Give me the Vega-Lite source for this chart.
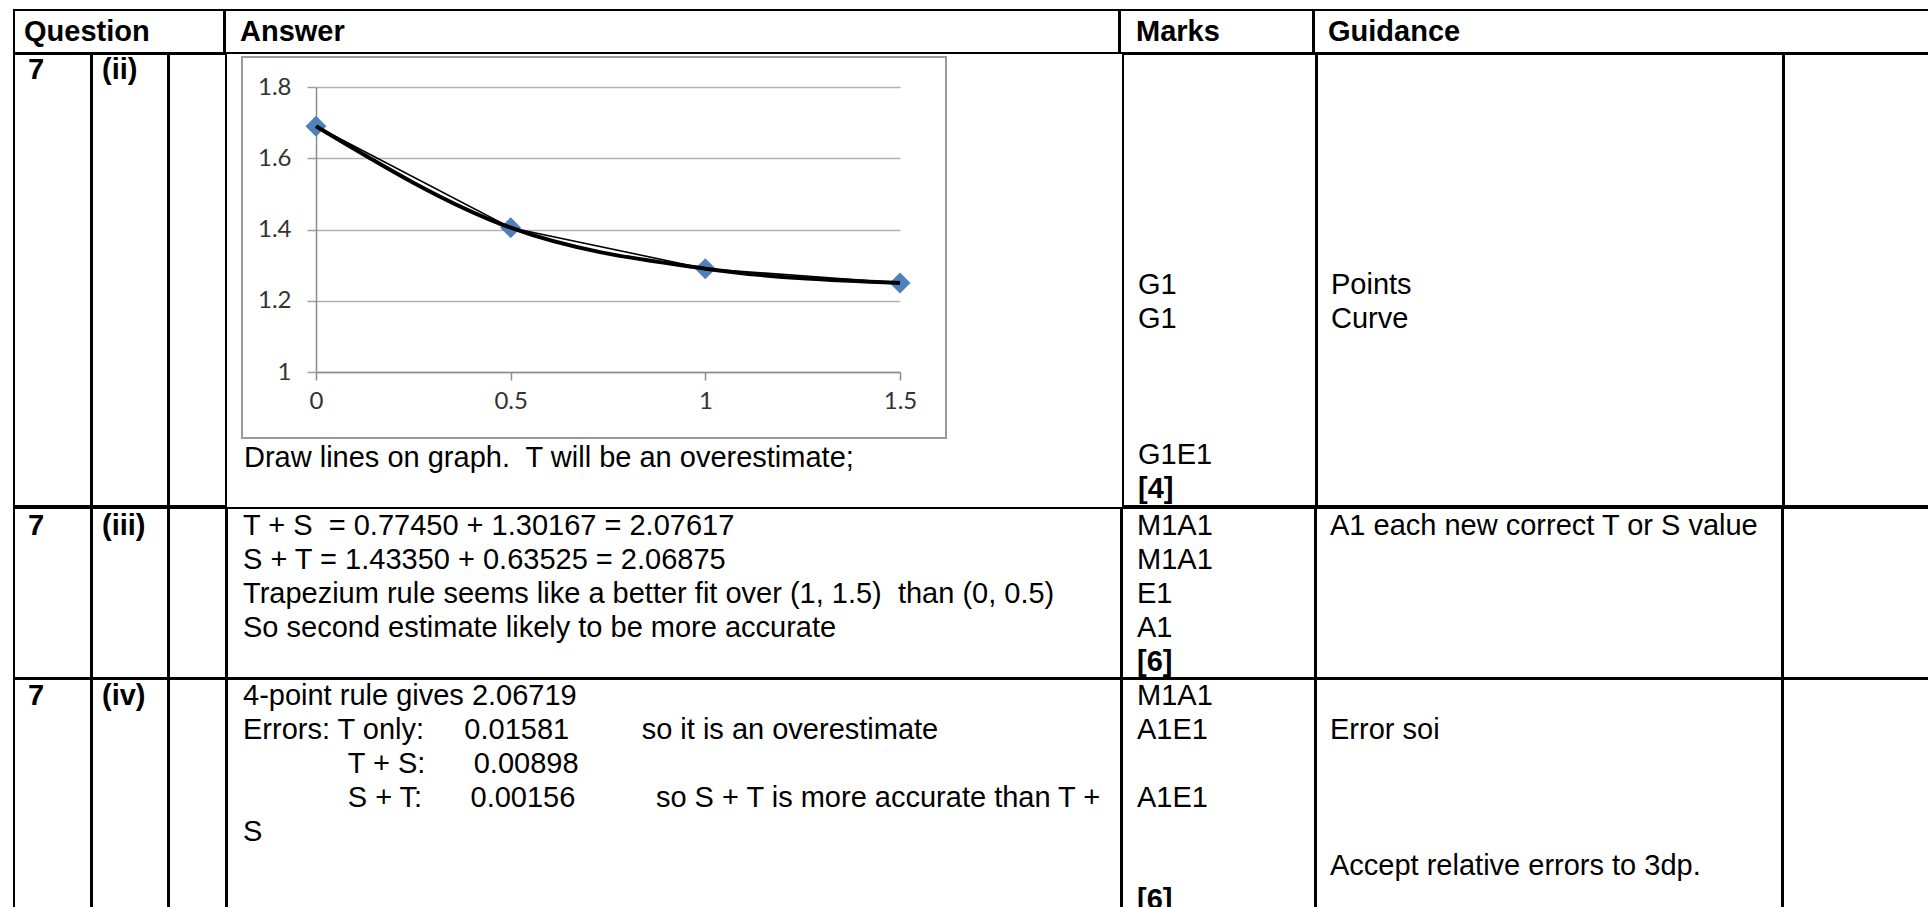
{
  "$schema": "https://vega.github.io/schema/vega-lite/v6.json",
  "background": "white",
  "padding": {"left": 13, "top": 9, "right": 0, "bottom": 0},
  "spacing": -2,
  "config": {
    "view": {"stroke": "black", "strokeWidth": 2},
    "text": {"font": "Liberation Sans", "fontSize": 29, "align": "left", "baseline": "middle", "color": "black"},
    "concat": {"spacing": -2}
  },
  "vconcat": [
    {
      "hconcat": [
        {"width": 210, "height": 43, "data": {"values": [{"line": 0, "text": "Question"}]},
         "mark": {"type": "text", "dx": 10, "fontWeight": "bold", "fontSize": 29},
         "encoding": {"x": {"datum": 0, "scale": {"domain": [0, 1]}, "axis": null},
                      "y": {"field": "line", "type": "quantitative", "scale": {"domain": [-0.632, 0.632], "reverse": true, "nice": false, "zero": false}, "axis": null},
                      "text": {"field": "text"}}},
        {"width": 894, "height": 43, "data": {"values": [{"line": 0, "text": "Answer"}]},
         "mark": {"type": "text", "dx": 15, "fontWeight": "bold", "fontSize": 29},
         "encoding": {"x": {"datum": 0, "scale": {"domain": [0, 1]}, "axis": null},
                      "y": {"field": "line", "type": "quantitative", "scale": {"domain": [-0.632, 0.632], "reverse": true, "nice": false, "zero": false}, "axis": null},
                      "text": {"field": "text"}}},
        {"width": 193, "height": 43, "data": {"values": [{"line": 0, "text": "Marks"}]},
         "mark": {"type": "text", "dx": 16, "fontWeight": "bold", "fontSize": 29},
         "encoding": {"x": {"datum": 0, "scale": {"domain": [0, 1]}, "axis": null},
                      "y": {"field": "line", "type": "quantitative", "scale": {"domain": [-0.632, 0.632], "reverse": true, "nice": false, "zero": false}, "axis": null},
                      "text": {"field": "text"}}},
        {"width": 620, "height": 43, "data": {"values": [{"line": 0, "text": "Guidance"}]},
         "mark": {"type": "text", "dx": 14, "fontWeight": "bold", "fontSize": 29},
         "encoding": {"x": {"datum": 0, "scale": {"domain": [0, 1]}, "axis": null},
                      "y": {"field": "line", "type": "quantitative", "scale": {"domain": [-0.632, 0.632], "reverse": true, "nice": false, "zero": false}, "axis": null},
                      "text": {"field": "text"}}}
      ],
      "spacing": -2
    },
    {
      "hconcat": [
        {"width": 77, "height": 452, "data": {"values": [{"line": 0, "text": "7"}]},
         "mark": {"type": "text", "dx": 14, "fontWeight": "bold"},
         "encoding": {"x": {"datum": 0, "scale": {"domain": [0, 1]}, "axis": null},
                      "y": {"field": "line", "type": "quantitative", "scale": {"domain": [-0.47, 12.824], "reverse": true, "nice": false, "zero": false}, "axis": null},
                      "text": {"field": "text"}}},
        {"width": 76, "height": 452, "data": {"values": [{"line": 0, "text": "(ii)"}]},
         "mark": {"type": "text", "dx": 10, "fontWeight": "bold"},
         "encoding": {"x": {"datum": 0, "scale": {"domain": [0, 1]}, "axis": null},
                      "y": {"field": "line", "type": "quantitative", "scale": {"domain": [-0.47, 12.824], "reverse": true, "nice": false, "zero": false}, "axis": null},
                      "text": {"field": "text"}}},
        {"width": 57, "height": 452, "data": {"values": [{"line": 0, "text": ""}]},
         "mark": {"type": "text"},
         "encoding": {"x": {"datum": 0, "scale": {"domain": [0, 1]}, "axis": null},
                      "y": {"field": "line", "type": "quantitative", "scale": {"domain": [-0.47, 12.824], "reverse": true, "nice": false, "zero": false}, "axis": null},
                      "text": {"field": "text"}}},
        {
          "vconcat": [
            {"width": 896, "height": 2, "data": {"values": []}, "mark": "text", "view": {"stroke": null, "fill": null}},
            {
              "hconcat": [
                {"width": 15, "height": 381, "data": {"values": []}, "mark": "text", "view": {"stroke": null, "fill": null}},
                {
                  "width": 704, "height": 381,
                  "view": {"stroke": "#9a9a9a", "strokeWidth": 2},
                  "data": {"values": [
                    {"x": 0, "y": 1.69},
                    {"x": 0.5, "y": 1.405},
                    {"x": 1, "y": 1.29},
                    {"x": 1.5, "y": 1.25}
                  ]},
                  "encoding": {
                    "x": {"field": "x", "type": "quantitative",
                          "scale": {"domain": [0, 1.5], "range": [74, 658], "nice": false, "zero": false},
                          "axis": {"orient": "bottom", "offset": -66, "values": [0, 0.5, 1, 1.5], "format": "~g", "title": null, "grid": false,
                                   "domainColor": "#8c8c8c", "domainWidth": 1.5, "tickColor": "#8c8c8c", "tickSize": 8, "tickWidth": 1.5,
                                   "labelFont": "Lato", "labelFontSize": 24, "labelColor": "#333333", "labelPadding": 9, "labelFlush": false, "labelBound": false, "labelOverlap": false}},
                    "y": {"field": "y", "type": "quantitative",
                          "scale": {"domain": [1, 1.8], "range": [315, 30], "nice": false, "zero": false},
                          "axis": {"orient": "left", "offset": -74, "values": [1, 1.2, 1.4, 1.6, 1.8], "format": "~g", "title": null,
                                   "grid": true, "gridColor": "#b2b2b2", "gridWidth": 1.5,
                                   "domainColor": "#8c8c8c", "domainWidth": 1.5, "tickColor": "#a0a0a0", "tickSize": 9, "tickWidth": 1.5,
                                   "labelFont": "Lato", "labelFontSize": 24, "labelColor": "#333333", "labelPadding": 16, "labelBound": false, "labelOverlap": false}}
                  },
                  "layer": [
                    {"mark": {"type": "point", "shape": "diamond", "filled": true, "size": 440, "color": "#4f81bd", "opacity": 1}},
                    {"mark": {"type": "line", "color": "black", "strokeWidth": 1.6}},
                    {"mark": {"type": "line", "color": "black", "strokeWidth": 4, "interpolate": "monotone"}}
                  ]
                },
                {"width": 175, "height": 381, "data": {"values": []}, "mark": "text", "view": {"stroke": null, "fill": null}}
              ],
              "spacing": 0,
              "bounds": "flush"
            },
            {"width": 896, "height": 69, "view": {"stroke": null, "fill": null},
             "data": {"values": [{"line": 0, "text": "Draw lines on graph.\u00a0 T will be an overestimate;"}]},
             "mark": {"type": "text", "dx": 17},
             "encoding": {"x": {"datum": 0, "scale": {"domain": [0, 1]}, "axis": null},
                          "y": {"field": "line", "type": "quantitative", "scale": {"domain": [-0.559, 1.471], "reverse": true, "nice": false, "zero": false}, "axis": null},
                          "text": {"field": "text"}}}
          ],
          "spacing": 0
        },
        {"width": 193, "height": 452,
         "data": {"values": [
           {"line": 0, "text": "G1"},
           {"line": 1, "text": "G1"},
           {"line": 5, "text": "G1E1"},
           {"line": 6, "text": "[4]", "kind": "total"}
         ]},
         "encoding": {"x": {"datum": 0, "scale": {"domain": [0, 1]}, "axis": null},
                      "y": {"field": "line", "type": "quantitative", "scale": {"domain": [-6.794, 6.5], "reverse": true, "nice": false, "zero": false}, "axis": null},
                      "text": {"field": "text"}},
         "layer": [
           {"transform": [{"filter": "datum.kind !== 'total'"}], "mark": {"type": "text", "dx": 15}},
           {"transform": [{"filter": "datum.kind === 'total'"}], "mark": {"type": "text", "dx": 15, "fontWeight": "bold"}}
         ]},
        {"width": 466, "height": 452,
         "data": {"values": [
           {"line": 0, "text": "Points"},
           {"line": 1, "text": "Curve"}
         ]},
         "mark": {"type": "text", "dx": 14},
         "encoding": {"x": {"datum": 0, "scale": {"domain": [0, 1]}, "axis": null},
                      "y": {"field": "line", "type": "quantitative", "scale": {"domain": [-6.794, 6.5], "reverse": true, "nice": false, "zero": false}, "axis": null},
                      "text": {"field": "text"}}},
        {"width": 154, "height": 452, "data": {"values": [{"line": 0, "text": ""}]},
         "mark": {"type": "text"},
         "encoding": {"x": {"datum": 0, "scale": {"domain": [0, 1]}, "axis": null},
                      "y": {"field": "line", "type": "quantitative", "scale": {"domain": [-0.47, 12.824], "reverse": true, "nice": false, "zero": false}, "axis": null},
                      "text": {"field": "text"}}}
      ],
      "spacing": -2
    },
    {
      "hconcat": [
        {"width": 77, "height": 170, "data": {"values": [{"line": 0, "text": "7"}]},
         "mark": {"type": "text", "dx": 14, "fontWeight": "bold"},
         "encoding": {"x": {"datum": 0, "scale": {"domain": [0, 1]}, "axis": null},
                      "y": {"field": "line", "type": "quantitative", "scale": {"domain": [-0.529, 4.471], "reverse": true, "nice": false, "zero": false}, "axis": null},
                      "text": {"field": "text"}}},
        {"width": 76, "height": 170, "data": {"values": [{"line": 0, "text": "(iii)"}]},
         "mark": {"type": "text", "dx": 10, "fontWeight": "bold"},
         "encoding": {"x": {"datum": 0, "scale": {"domain": [0, 1]}, "axis": null},
                      "y": {"field": "line", "type": "quantitative", "scale": {"domain": [-0.529, 4.471], "reverse": true, "nice": false, "zero": false}, "axis": null},
                      "text": {"field": "text"}}},
        {"width": 57, "height": 170, "data": {"values": [{"line": 0, "text": ""}]},
         "mark": {"type": "text"},
         "encoding": {"x": {"datum": 0, "scale": {"domain": [0, 1]}, "axis": null},
                      "y": {"field": "line", "type": "quantitative", "scale": {"domain": [-0.529, 4.471], "reverse": true, "nice": false, "zero": false}, "axis": null},
                      "text": {"field": "text"}}},
        {"width": 894, "height": 170,
         "data": {"values": [
           {"line": 0, "text": "T + S\u00a0\u00a0= 0.77450 + 1.30167 = 2.07617"},
           {"line": 1, "text": "S + T = 1.43350 + 0.63525 = 2.06875"},
           {"line": 2, "text": "Trapezium rule seems like a better fit over (1, 1.5)\u00a0\u00a0than (0, 0.5)"},
           {"line": 3, "text": "So second estimate likely to be more accurate"}
         ]},
         "mark": {"type": "text", "dx": 16},
         "encoding": {"x": {"datum": 0, "scale": {"domain": [0, 1]}, "axis": null},
                      "y": {"field": "line", "type": "quantitative", "scale": {"domain": [-0.529, 4.471], "reverse": true, "nice": false, "zero": false}, "axis": null},
                      "text": {"field": "text"}}},
        {"width": 193, "height": 170,
         "data": {"values": [
           {"line": 0, "text": "M1A1"},
           {"line": 1, "text": "M1A1"},
           {"line": 2, "text": "E1"},
           {"line": 3, "text": "A1"},
           {"line": 4, "text": "[6]", "kind": "total"}
         ]},
         "encoding": {"x": {"datum": 0, "scale": {"domain": [0, 1]}, "axis": null},
                      "y": {"field": "line", "type": "quantitative", "scale": {"domain": [-0.529, 4.471], "reverse": true, "nice": false, "zero": false}, "axis": null},
                      "text": {"field": "text"}},
         "layer": [
           {"transform": [{"filter": "datum.kind !== 'total'"}], "mark": {"type": "text", "dx": 15}},
           {"transform": [{"filter": "datum.kind === 'total'"}], "mark": {"type": "text", "dx": 15, "fontWeight": "bold"}}
         ]},
        {"width": 466, "height": 170,
         "data": {"values": [{"line": 0, "text": "A1 each new correct T or S value"}]},
         "mark": {"type": "text", "dx": 14},
         "encoding": {"x": {"datum": 0, "scale": {"domain": [0, 1]}, "axis": null},
                      "y": {"field": "line", "type": "quantitative", "scale": {"domain": [-0.529, 4.471], "reverse": true, "nice": false, "zero": false}, "axis": null},
                      "text": {"field": "text"}}},
        {"width": 154, "height": 170, "data": {"values": [{"line": 0, "text": ""}]},
         "mark": {"type": "text"},
         "encoding": {"x": {"datum": 0, "scale": {"domain": [0, 1]}, "axis": null},
                      "y": {"field": "line", "type": "quantitative", "scale": {"domain": [-0.529, 4.471], "reverse": true, "nice": false, "zero": false}, "axis": null},
                      "text": {"field": "text"}}}
      ],
      "spacing": -2
    },
    {
      "hconcat": [
        {"width": 77, "height": 235, "data": {"values": [{"line": 0, "text": "7"}]},
         "mark": {"type": "text", "dx": 14, "fontWeight": "bold"},
         "encoding": {"x": {"datum": 0, "scale": {"domain": [0, 1]}, "axis": null},
                      "y": {"field": "line", "type": "quantitative", "scale": {"domain": [-0.5, 6.412], "reverse": true, "nice": false, "zero": false}, "axis": null},
                      "text": {"field": "text"}}},
        {"width": 76, "height": 235, "data": {"values": [{"line": 0, "text": "(iv)"}]},
         "mark": {"type": "text", "dx": 10, "fontWeight": "bold"},
         "encoding": {"x": {"datum": 0, "scale": {"domain": [0, 1]}, "axis": null},
                      "y": {"field": "line", "type": "quantitative", "scale": {"domain": [-0.5, 6.412], "reverse": true, "nice": false, "zero": false}, "axis": null},
                      "text": {"field": "text"}}},
        {"width": 57, "height": 235, "data": {"values": [{"line": 0, "text": ""}]},
         "mark": {"type": "text"},
         "encoding": {"x": {"datum": 0, "scale": {"domain": [0, 1]}, "axis": null},
                      "y": {"field": "line", "type": "quantitative", "scale": {"domain": [-0.5, 6.412], "reverse": true, "nice": false, "zero": false}, "axis": null},
                      "text": {"field": "text"}}},
        {"width": 894, "height": 235,
         "data": {"values": [
           {"line": 0, "text": "4-point rule gives 2.06719"},
           {"line": 1, "text": "Errors: T only:\u00a0\u00a0\u00a0\u00a0\u00a00.01581\u00a0\u00a0\u00a0\u00a0\u00a0\u00a0\u00a0\u00a0\u00a0so it is an overestimate"},
           {"line": 2, "text": "\u200b\u00a0\u00a0\u00a0\u00a0\u00a0\u00a0\u00a0\u00a0\u00a0\u00a0\u00a0\u00a0\u00a0T + S:\u00a0\u00a0\u00a0\u00a0\u00a0\u00a00.00898"},
           {"line": 3, "text": "\u200b\u00a0\u00a0\u00a0\u00a0\u00a0\u00a0\u00a0\u00a0\u00a0\u00a0\u00a0\u00a0\u00a0S + T:\u00a0\u00a0\u00a0\u00a0\u00a0\u00a00.00156\u00a0\u00a0\u00a0\u00a0\u00a0\u00a0\u00a0\u00a0\u00a0\u00a0so S + T is more accurate than T +"},
           {"line": 4, "text": "S"}
         ]},
         "mark": {"type": "text", "dx": 16},
         "encoding": {"x": {"datum": 0, "scale": {"domain": [0, 1]}, "axis": null},
                      "y": {"field": "line", "type": "quantitative", "scale": {"domain": [-0.5, 6.412], "reverse": true, "nice": false, "zero": false}, "axis": null},
                      "text": {"field": "text"}}},
        {"width": 193, "height": 235,
         "data": {"values": [
           {"line": 0, "text": "M1A1"},
           {"line": 1, "text": "A1E1"},
           {"line": 3, "text": "A1E1"},
           {"line": 6, "text": "[6]", "kind": "total"}
         ]},
         "encoding": {"x": {"datum": 0, "scale": {"domain": [0, 1]}, "axis": null},
                      "y": {"field": "line", "type": "quantitative", "scale": {"domain": [-0.5, 6.412], "reverse": true, "nice": false, "zero": false}, "axis": null},
                      "text": {"field": "text"}},
         "layer": [
           {"transform": [{"filter": "datum.kind !== 'total'"}], "mark": {"type": "text", "dx": 15}},
           {"transform": [{"filter": "datum.kind === 'total'"}], "mark": {"type": "text", "dx": 15, "fontWeight": "bold"}}
         ]},
        {"width": 466, "height": 235,
         "data": {"values": [
           {"line": 1, "text": "Error soi"},
           {"line": 5, "text": "Accept relative errors to 3dp."}
         ]},
         "mark": {"type": "text", "dx": 14},
         "encoding": {"x": {"datum": 0, "scale": {"domain": [0, 1]}, "axis": null},
                      "y": {"field": "line", "type": "quantitative", "scale": {"domain": [-0.5, 6.412], "reverse": true, "nice": false, "zero": false}, "axis": null},
                      "text": {"field": "text"}}},
        {"width": 154, "height": 235, "data": {"values": [{"line": 0, "text": ""}]},
         "mark": {"type": "text"},
         "encoding": {"x": {"datum": 0, "scale": {"domain": [0, 1]}, "axis": null},
                      "y": {"field": "line", "type": "quantitative", "scale": {"domain": [-0.5, 6.412], "reverse": true, "nice": false, "zero": false}, "axis": null},
                      "text": {"field": "text"}}}
      ],
      "spacing": -2
    }
  ]
}
